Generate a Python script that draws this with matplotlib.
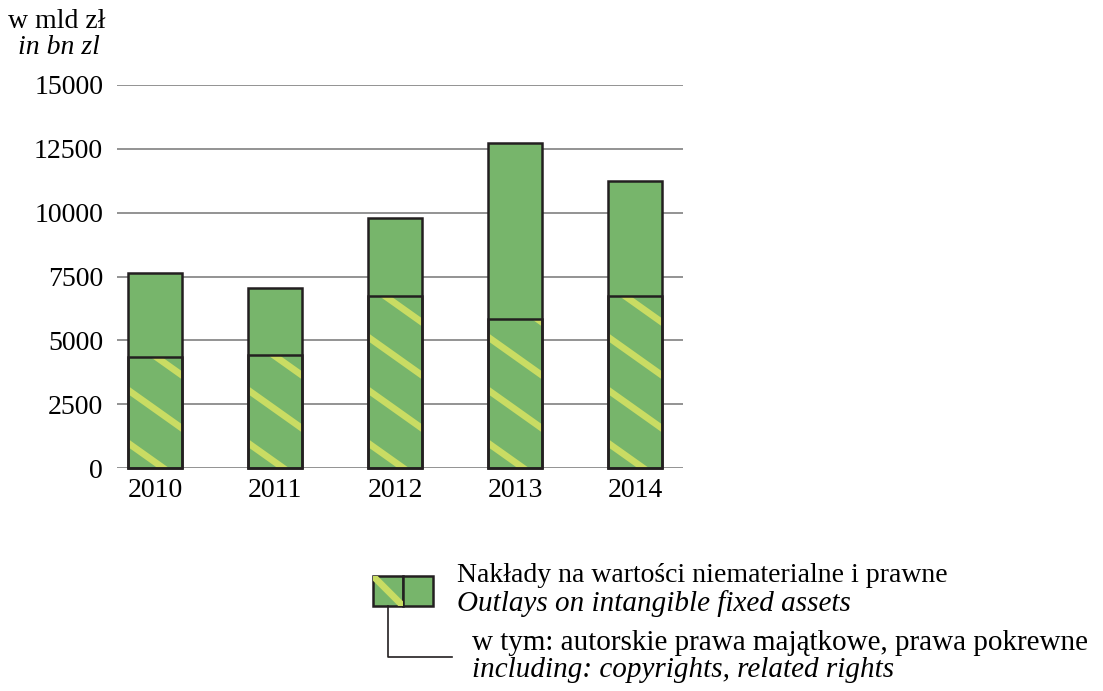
import matplotlib.pyplot as plt
from matplotlib.patches import Rectangle
import numpy as np

# dane (w mld zł)
years = ['2010', '2011', '2012', '2013', '2014']
outlays_total = [7640, 7050, 9790, 12730, 11240]
copyrights = [4350, 4430, 6740, 5840, 6740]
yticks = [0, 2500, 5000, 7500, 10000, 12500, 15000]

GREEN = '#77b56b'
STRIPE = '#c9dc63'
EDGE = '#231f20'
GRID = '#808080'
FONT = 'Liberation Serif'
FS = 20

W, H = 1103, 691
fig = plt.figure(figsize=(W / 100, H / 100), dpi=100)
ax = fig.add_axes([117 / W, 1 - 468 / H, (683 - 117) / W, (468 - 85) / H])

x = np.arange(len(years))
bw = 0.45

for t in yticks:
    ax.axhline(t, color=GRID, lw=1.2, zorder=0)

ax.bar(x, outlays_total, width=bw, color=GREEN, edgecolor='none', zorder=2)
inner = ax.bar(x, copyrights, width=bw, color=GREEN, edgecolor='none', zorder=2)

ax.set_xlim(-0.317, 4.4)
ax.set_ylim(0, 15000)

# paski ukośne (rysowane w pikselach, przycinane do słupka)
px_x = (683 - 117) / (4.4 + 0.317)   # pikseli na jednostkę x
px_y = (468 - 85) / 15000             # pikseli na jednostkę y
slope = 0.71 * px_x / px_y
gap = 53 / px_y
first = 25 / px_y
for rect, top in zip(inner.patches, copyrights):
    x0 = rect.get_x()
    x1 = x0 + rect.get_width()
    for k in range(12):
        yl = first + k * gap
        ln, = ax.plot([x0 - 0.1, x1 + 0.1],
                      [yl + slope * 0.1, yl - slope * (x1 - x0 + 0.1)],
                      color=STRIPE, lw=4.8, solid_capstyle='butt', zorder=3)
        ln.set_clip_path(rect)

ax.bar(x, outlays_total, width=bw, fill=False, edgecolor=EDGE, lw=1.8, zorder=4, clip_on=False)
ax.bar(x, copyrights, width=bw, fill=False, edgecolor=EDGE, lw=1.8, zorder=4, clip_on=False)

for s in ax.spines.values():
    s.set_visible(False)
ax.set_yticks(yticks)
ax.set_yticklabels([str(t) for t in yticks], fontfamily=FONT, fontsize=FS)
ax.set_xticks(x)
ax.set_xticklabels(years, fontfamily=FONT, fontsize=FS)
ax.tick_params(length=0)
ax.tick_params(axis='y', pad=10)
ax.tick_params(axis='x', pad=7)

fig.text(105 / W, 1 - 21 / H, 'w mld zł', ha='right', va='center', family=FONT, fontsize=FS)
fig.text(100 / W, 1 - 47 / H, 'in bn zl', ha='right', va='center', family=FONT, fontsize=FS, style='italic')

# legenda
lg = fig.add_axes([0, 0, 1, 1])
lg.set_xlim(0, W)
lg.set_ylim(H, 0)
lg.axis('off')
lg.patch.set_alpha(0)
sw = Rectangle((373, 576), 30, 30, facecolor=GREEN, edgecolor='none')
lg.add_patch(sw)
st, = lg.plot([365, 411], [568, 614], color=STRIPE, lw=4.8, solid_capstyle='butt')
st.set_clip_path(sw)
lg.add_patch(Rectangle((373, 576), 30, 30, fill=False, edgecolor=EDGE, lw=1.8))
lg.add_patch(Rectangle((403, 576), 30, 30, facecolor=GREEN, edgecolor=EDGE, lw=1.8))
lg.plot([388, 388, 452], [606, 657, 657], color=EDGE, lw=1.2)

lg.text(457, 576, 'Nakłady na wartości niematerialne i prawne', va='center', family=FONT, fontsize=FS)
lg.text(457, 604, 'Outlays on intangible fixed assets', va='center', family=FONT, fontsize=21, style='italic')
lg.text(472, 643, 'w tym: autorskie prawa majątkowe, prawa pokrewne', va='center', family=FONT, fontsize=21)
lg.text(472, 670, 'including: copyrights, related rights', va='center', family=FONT, fontsize=21, style='italic')

fig.savefig('out.png', dpi=100)
